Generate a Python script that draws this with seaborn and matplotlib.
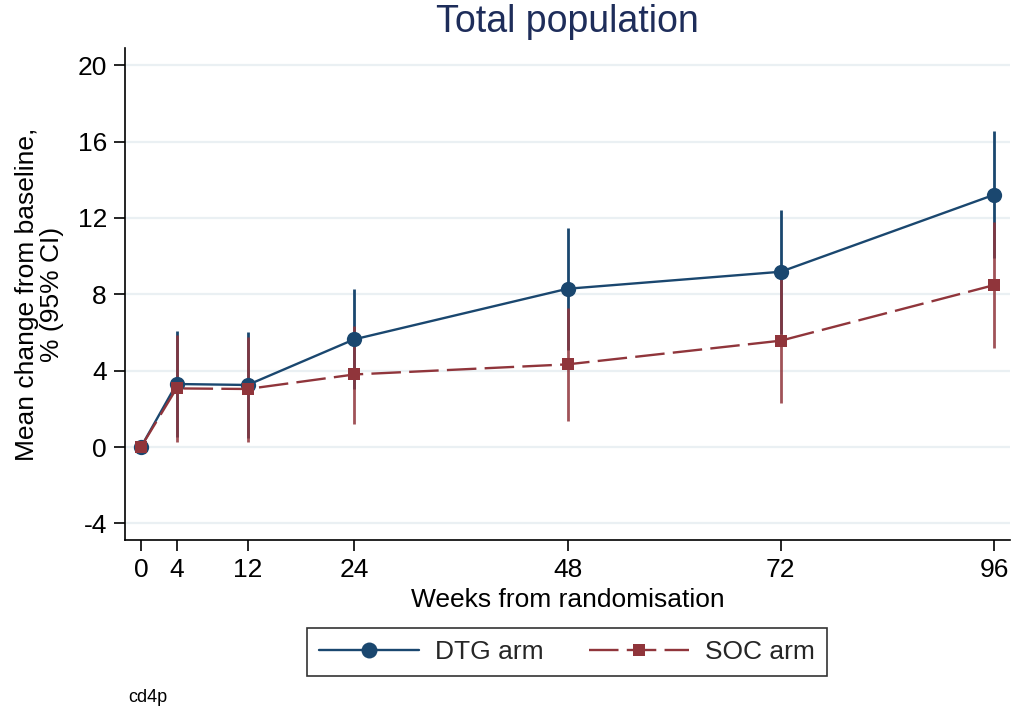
import numpy as np
import pandas as pd
import seaborn as sns
import matplotlib
matplotlib.use("Agg")
import matplotlib.pyplot as plt
from matplotlib.lines import Line2D

# Mean change from baseline (%) with 95% confidence limits, by visit week
weeks = [0, 4, 12, 24, 48, 72, 96]
dtg_mean = [0.0, 3.30, 3.25, 5.64, 8.29, 9.18, 13.21]
dtg_lo = [0.0, 0.53, 0.47, 3.02, 5.08, 5.92, 9.92]
dtg_hi = [0.0, 6.07, 6.03, 8.26, 11.48, 12.44, 16.54]
soc_mean = [0.0, 3.07, 3.04, 3.80, 4.33, 5.57, 8.48]
soc_lo = [0.0, 0.28, 0.28, 1.20, 1.38, 2.32, 5.17]
soc_hi = [0.0, 5.86, 5.78, 6.35, 7.26, 8.88, 11.80]
arm_labels = ["DTG arm", "SOC arm"]
y_ticks = [-4, 0, 4, 8, 12, 16, 20]

BLUE = "#1a476f"
RED = "#90353b"
GRID = "#eaf0f3"
FS = 19
LW = 1.7
DASH = (12.5, 3.5)
CIRCLE_SIZE = 11
SQUARE_SIZE = 9

sns.set_theme(style="white")
plt.rcParams["font.family"] = ["Liberation Sans", "DejaVu Sans"]

df = pd.DataFrame({
    "week": weeks * 2,
    "mean": dtg_mean + soc_mean,
    "arm": [arm_labels[0]] * len(weeks) + [arm_labels[1]] * len(weeks),
})

fig = plt.figure(figsize=(10.13, 7.15), dpi=100)
ax = fig.add_axes([125 / 1013, 1 - 540 / 715, (1010 - 125) / 1013, (540 - 48) / 715])

for v in y_ticks:
    ax.axhline(v, color=GRID, lw=1.6, zorder=0)

# confidence intervals (week 0 has none)
ax.vlines(weeks[1:], dtg_lo[1:], dtg_hi[1:], color=BLUE, lw=2.0, zorder=2)
ax.vlines(weeks[1:], soc_lo[1:], soc_hi[1:], color=RED, lw=2.0, alpha=0.85, zorder=3)

sns.lineplot(
    data=df, x="week", y="mean", hue="arm", style="arm",
    palette={arm_labels[0]: BLUE, arm_labels[1]: RED},
    markers={arm_labels[0]: "o", arm_labels[1]: "s"},
    dashes={arm_labels[0]: "", arm_labels[1]: DASH},
    markersize=CIRCLE_SIZE, markeredgewidth=0, linewidth=LW,
    legend=False, ax=ax, zorder=4,
)
for ln in ax.get_lines():
    if ln.get_marker() == "s":
        ln.set_markersize(SQUARE_SIZE)

ax.set_xlim(-1.8, 97.8)
ax.set_ylim(-4.87, 20.9)
ax.set_xticks(weeks)
ax.set_yticks(y_ticks)
ax.tick_params(axis="both", which="both", direction="out", length=8, width=1.2,
               color="black", labelsize=FS, labelcolor="black", left=True, bottom=True, pad=5)
ax.set_yticklabels([str(v) for v in y_ticks])
for side in ["top", "right"]:
    ax.spines[side].set_visible(False)
for side in ["left", "bottom"]:
    ax.spines[side].set_color("black")
    ax.spines[side].set_linewidth(1.2)

ax.set_xlabel("Weeks from randomisation", fontsize=FS, color="black", labelpad=4)
ax.set_ylabel("Mean change from baseline,\n% (95% CI)", fontsize=FS, color="black",
              linespacing=1.05, labelpad=10)
fig.text(567 / 1013, 1 - 22 / 715, "Total population", fontsize=27, color="#1e2d5a",
         ha="center", va="center")

handles = [
    Line2D([0], [0], color=BLUE, lw=LW, marker="o", markersize=CIRCLE_SIZE + 0.5,
           markeredgewidth=0),
    Line2D([0], [0], color=RED, lw=LW, marker="s", markersize=SQUARE_SIZE - 1,
           markeredgewidth=0, dashes=DASH),
]
leg = fig.legend(handles, arm_labels, loc="center", bbox_to_anchor=(567 / 1013, 1 - 652 / 715),
                 ncol=2, fontsize=FS, frameon=True, fancybox=False, edgecolor="black",
                 handlelength=3.8, columnspacing=1.7, handletextpad=0.6,
                 borderpad=0.45, borderaxespad=0)
leg.get_frame().set_linewidth(1.2)

fig.text(128 / 1013, 1 - 698 / 715, "cd4p", fontsize=13, color="black", ha="left", va="center")

fig.savefig("out.png", dpi=100, facecolor="white")
